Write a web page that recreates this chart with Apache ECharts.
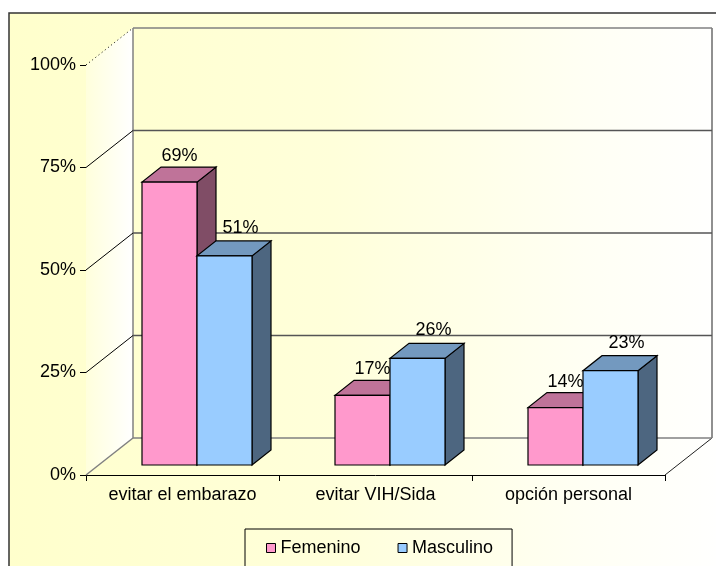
<!DOCTYPE html>
<html lang="es">
<head>
    <meta charset="utf-8">
    <title>Motivos</title>
    <script src="https://cdn.jsdelivr.net/npm/echarts@6/dist/echarts.min.js"></script>
    <style>
        html, body { margin: 0; padding: 0; background: #fff; }
        #box { width: 716px; height: 566px; }
    </style>
</head>
<body>
    <div id="box"></div>
    <script>
        // datos del grafico
        var categories = ['evitar el embarazo', 'evitar VIH/Sida', 'opción personal'];
        var femenino = [69, 17, 14];
        var masculino = [51, 26, 23];
        var yTicks = [0, 25, 50, 75, 100];

        var FONT = "'Liberation Sans', Arial, sans-serif";
        // profundidad de la caja 3D (pared del fondo)
        var DX = 47, DY = -37;
        // desplazamiento de las barras y su profundidad
        var OX = 14.5, OY = -10, BX = 19, BY = -15;

        // paredes, piso y lineas de division
        function frameItem(params, api) {
            var cs = params.coordSys;
            var v = api.value(1);
            var y = api.coord([0, v])[1];
            var left = cs.x, right = cs.x + cs.width;
            var kids = [];
            if (v === 0) {
                var yTop = cs.y, yBot = cs.y + cs.height;
                kids.push({
                    type: 'polygon',
                    shape: { points: [[left, yTop], [left + DX, yTop + DY], [left + DX, yBot + DY], [left, yBot]] },
                    style: {
                        fill: new echarts.graphic.LinearGradient(0, 0, 1, 0, [
                            { offset: 0, color: '#FFFFDC' },
                            { offset: 1, color: '#FFFFFF' }
                        ])
                    }
                });
                kids.push({
                    type: 'line',
                    shape: { x1: left + DX, y1: yTop + DY, x2: left + DX, y2: yBot + DY },
                    style: { stroke: '#808080', lineWidth: 1.5 }
                });
                kids.push({
                    type: 'line',
                    shape: { x1: right + DX, y1: yTop + DY, x2: right + DX, y2: yBot + DY },
                    style: { stroke: '#909090', lineWidth: 2 }
                });
                kids.push({
                    type: 'line',
                    shape: { x1: right, y1: yBot, x2: right + DX, y2: yBot + DY },
                    style: { stroke: '#222', lineWidth: 1 }
                });
            }
            var wallColor = (v === 0 || v === 100) ? '#808080' : '#555';
            kids.push({
                type: 'line',
                shape: { x1: left + DX, y1: y + DY, x2: right + DX, y2: y + DY },
                style: { stroke: wallColor, lineWidth: 1.5 }
            });
            kids.push({
                type: 'line',
                shape: { x1: left, y1: y, x2: left + DX, y2: y + DY },
                style: {
                    stroke: v === 0 ? '#808080' : '#000',
                    lineWidth: v === 0 ? 1.5 : 1,
                    lineDash: v === 100 ? [1, 3] : null
                }
            });
            return { type: 'group', children: kids };
        }

        function barItem(side, front, topC, sideC, ldx, ldy) {
            return function (params, api) {
                var i = api.value(0), v = api.value(1);
                var c = api.coord([i, v]);
                var c0 = api.coord([i, 0]);
                var w = api.size([1, 0])[0] * 0.285;
                var cx = c[0] + OX + side * w / 2;
                var x0 = cx - w / 2, x1 = cx + w / 2;
                var top = c[1] + OY, bot = c0[1] + OY;
                var st = { stroke: '#000', lineWidth: 1.2 };
                return {
                    type: 'group',
                    children: [
                        {
                            type: 'polygon',
                            shape: { points: [[x1, top], [x1 + BX, top + BY], [x1 + BX, bot + BY], [x1, bot]] },
                            style: echarts.util.extend({ fill: sideC }, st)
                        },
                        {
                            type: 'polygon',
                            shape: { points: [[x0, top], [x1, top], [x1 + BX, top + BY], [x0 + BX, top + BY]] },
                            style: echarts.util.extend({ fill: topC }, st)
                        },
                        {
                            type: 'rect',
                            shape: { x: x0, y: top, width: w, height: bot - top },
                            style: echarts.util.extend({ fill: front }, st)
                        },
                        {
                            type: 'text',
                            style: {
                                text: v + '%', x: cx + ldx, y: top + ldy,
                                align: 'center', verticalAlign: 'middle',
                                fontSize: 18, fontFamily: FONT, fill: '#000'
                            }
                        }
                    ]
                };
            };
        }

        var myChart = echarts.init(document.getElementById('box'));

        var option = {
            backgroundColor: '#fff',
            animation: false,
            graphic: [{
                type: 'rect',
                z: -10,
                shape: { x: 9, y: 13, width: 720, height: 600 },
                style: {
                    fill: new echarts.graphic.LinearGradient(0, 0, 1, 0, [
                        { offset: 0, color: '#FFFFCC' },
                        { offset: 0.45, color: '#FFFFDA' },
                        { offset: 0.8, color: '#FFFFF4' },
                        { offset: 1, color: '#FFFFFF' }
                    ]),
                    stroke: '#333', lineWidth: 1.5
                }
            }],
            legend: {
                data: ['Femenino', 'Masculino'],
                left: 245, top: 529,
                padding: [10, 19, 22, 21],
                itemWidth: 9, itemHeight: 9, itemGap: 37,
                icon: 'rect',
                borderColor: '#000', borderWidth: 1,
                itemStyle: { borderColor: '#000', borderWidth: 1 },
                textStyle: { fontSize: 18, fontFamily: FONT, color: '#000' }
            },
            grid: { left: 86, top: 65, width: 579, height: 410 },
            xAxis: {
                type: 'category',
                data: categories,
                axisLine: { lineStyle: { color: '#000', width: 1 } },
                axisTick: { show: true, interval: 0, length: 6, lineStyle: { color: '#000' } },
                axisLabel: { fontSize: 18, fontFamily: FONT, color: '#000', margin: 11 },
                splitLine: { show: false }
            },
            yAxis: {
                type: 'value',
                min: 0, max: 100, interval: 25,
                axisLine: { show: true, lineStyle: { color: '#000', width: 1 } },
                axisTick: { show: true, length: 6, lineStyle: { color: '#000' } },
                axisLabel: { formatter: '{value}%', fontSize: 18, fontFamily: FONT, color: '#000', margin: 10 },
                splitLine: { show: false }
            },
            series: [
                {
                    name: 'marco',
                    type: 'custom',
                    z: 1,
                    silent: true,
                    renderItem: frameItem,
                    data: yTicks.map(function (v) { return [0, v]; })
                },
                {
                    name: 'Femenino',
                    type: 'custom',
                    z: 2,
                    itemStyle: { color: '#FF99CC' },
                    renderItem: barItem(-1, '#FF99CC', '#BF7399', '#804D66', 10, -26),
                    data: femenino.map(function (v, i) { return [i, v]; })
                },
                {
                    name: 'Masculino',
                    type: 'custom',
                    z: 2,
                    itemStyle: { color: '#99CCFF' },
                    renderItem: barItem(1, '#99CCFF', '#7399BF', '#4D6680', 16, -28),
                    data: masculino.map(function (v, i) { return [i, v]; })
                }
            ]
        };
        myChart.setOption(option, true);
    </script>
</body>
</html>
